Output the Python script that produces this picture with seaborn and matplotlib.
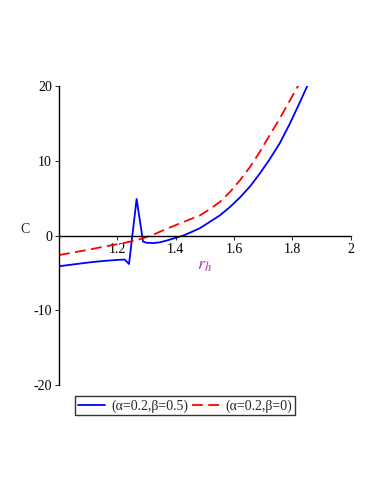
import numpy as np
import pandas as pd
import matplotlib
matplotlib.use("Agg")
import matplotlib.pyplot as plt
from matplotlib.lines import Line2D
import seaborn as sns

# blue curve (alpha=0.2, beta=0.5)
r_blue = [1.0, 1.05, 1.1, 1.15, 1.2, 1.225, 1.24, 1.266, 1.288, 1.3, 1.322,
          1.345, 1.368, 1.395, 1.425, 1.455, 1.483, 1.515, 1.551, 1.585,
          1.62, 1.655, 1.688, 1.72, 1.757, 1.79, 1.825, 1.854]
c_blue = [-4.1, -3.85, -3.6, -3.4, -3.25, -3.2, -3.8, 4.9, -0.8, -0.95, -1.0,
          -0.9, -0.67, -0.35, 0.0, 0.5, 1.0, 1.8, 2.7, 3.8,
          5.1, 6.6, 8.3, 10.1, 12.4, 14.9, 17.8, 20.3]

# red dashed curve (alpha=0.2, beta=0)
r_red = [1.0, 1.05, 1.1, 1.15, 1.209, 1.25, 1.288, 1.33, 1.368, 1.425, 1.483,
         1.515, 1.551, 1.585, 1.62, 1.655, 1.688, 1.72, 1.757, 1.79, 1.823]
c_red = [-2.6, -2.25, -1.9, -1.5, -1.1, -0.75, -0.36, 0.25, 0.9, 1.8, 2.7,
         3.5, 4.5, 5.8, 7.4, 9.2, 11.2, 13.3, 15.7, 18.0, 20.3]

label_blue = "(α=0.2,β=0.5)"
label_red = "(α=0.2,β=0)"

xticks = [1.2, 1.4, 1.6, 1.8, 2]
xtick_labels = ["1.2", "1.4", "1.6", "1.8", "2"]
yticks = [-20, -10, 0, 10, 20]
ytick_labels = ["-20", "-10", "0", "10", "20"]

df = pd.concat([
    pd.DataFrame({"r": r_blue, "C": c_blue, "case": label_blue}),
    pd.DataFrame({"r": r_red, "C": c_red, "case": label_red}),
])

sns.set_style("white")
plt.rcParams["font.family"] = ["Liberation Serif", "DejaVu Serif"]
plt.rcParams["mathtext.fontset"] = "stix"

fig = plt.figure(figsize=(3.83, 4.95), dpi=100)
ax = fig.add_axes([0.154, 0.222, 0.762, 0.604])

sns.lineplot(data=df, x="r", y="C", hue="case", style="case",
             palette={label_blue: "#0000ff", label_red: "#ff0000"},
             dashes={label_blue: "", label_red: (6, 3)},
             sort=False, estimator=None, linewidth=1.3, ax=ax, legend=False)

ax.set_xlim(1.0, 2.0)
ax.set_ylim(-20, 20)

ax.spines["right"].set_visible(False)
ax.spines["top"].set_visible(False)
ax.spines["bottom"].set_position(("data", 0))
for side in ["left", "bottom"]:
    ax.spines[side].set_linewidth(1.0)
    ax.spines[side].set_color("black")

ax.set_xticks(xticks)
ax.set_xticklabels(xtick_labels)
ax.set_yticks(yticks)
ax.set_yticklabels(ytick_labels)
ax.tick_params(axis="both", labelsize=10, length=3, width=0.6,
               direction="out", colors="black", bottom=True, left=True, pad=2)

ax.set_ylabel("C", rotation=0, fontsize=10)
ax.yaxis.set_label_coords(-0.116, 0.5)
ax.set_xlabel("")
ax.text(0.5, 0.40, "$r_h$", transform=ax.transAxes, color="#b030b0",
        fontsize=13, ha="center", va="center")

handles = [Line2D([], [], color="#0000ff", lw=1.3),
           Line2D([], [], color="#ff0000", lw=1.3, dashes=(6, 3))]
leg = fig.legend(handles, [label_blue, label_red], loc="center",
                 bbox_to_anchor=(0.483, 0.18), ncol=2, fontsize=10,
                 frameon=True, fancybox=False, handlelength=2.0,
                 columnspacing=0.3, handletextpad=0.4, borderpad=0.2,
                 borderaxespad=0)
leg.get_frame().set_edgecolor("black")
leg.get_frame().set_linewidth(1.0)

fig.savefig("out.png", dpi=100)
